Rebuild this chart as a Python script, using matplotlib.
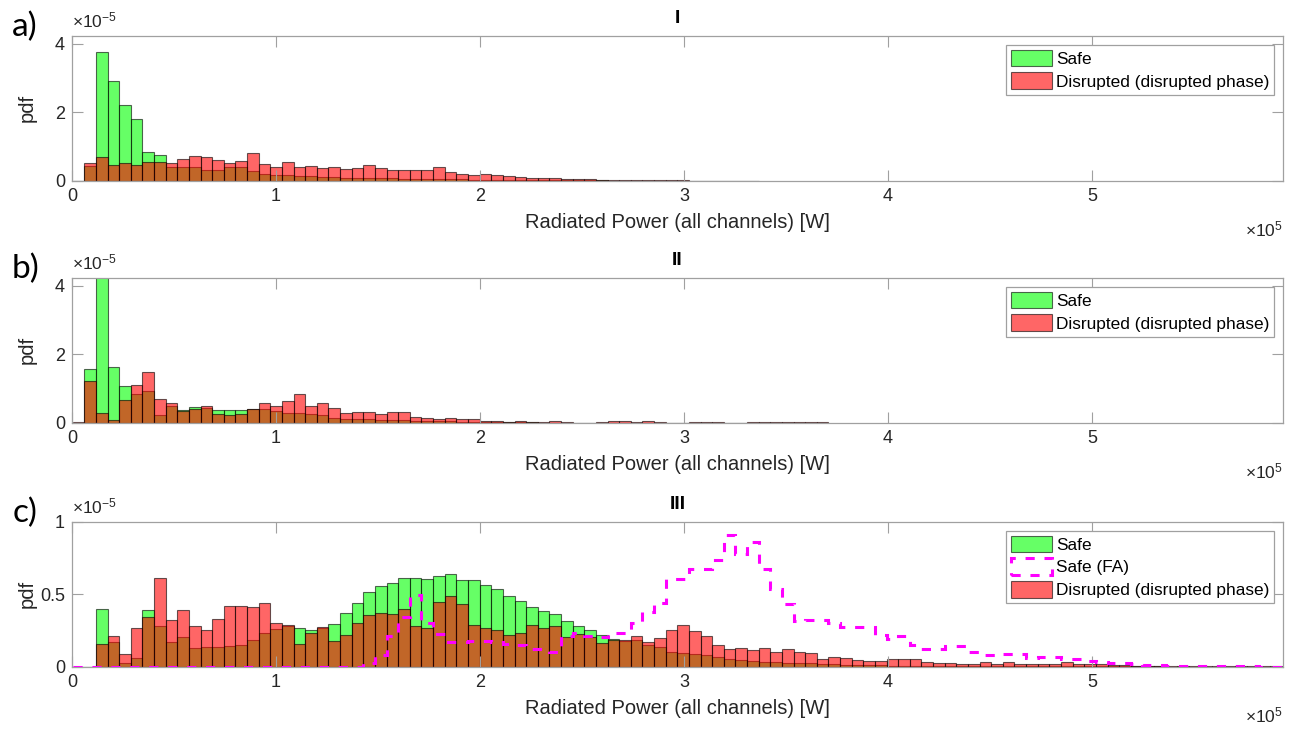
import numpy as np
import matplotlib
matplotlib.use('Agg')
import matplotlib.pyplot as plt
from matplotlib.patches import Patch
from matplotlib.ticker import FuncFormatter

plt.rcParams['font.family'] = ['Liberation Sans', 'DejaVu Sans']
plt.rcParams['mathtext.default'] = 'regular'

# histogram bins (W), same for every series
bin_start = 300.0
bin_width = 5700.0
n_bins = 104

# pdf values in units of 1e-5 per bin
safe_I = [0, 0.43, 3.75, 2.92, 2.20, 1.80, 0.85, 0.74, 0.39, 0.39,
          0.41, 0.31, 0.31, 0.40, 0.40, 0.28, 0.20, 0.18, 0.16, 0.13,
          0.13, 0.11, 0.11, 0.09, 0.08, 0.08, 0.07, 0.07, 0.06, 0.06,
          0.05, 0.05, 0.04, 0.04, 0.035, 0.03, 0.03, 0.025, 0.02, 0.02,
          0.015, 0.015, 0.012, 0.01, 0.01, 0.008, 0.006, 0.005, 0.004, 0.003,
          0.003, 0.003, 0.002, 0.002, 0.002, 0.002, 0.002, 0.002, 0.002]
disr_I = [0, 0.52, 0.68, 0.46, 0.52, 0.46, 0.54, 0.54, 0.51, 0.64,
          0.73, 0.69, 0.60, 0.51, 0.59, 0.80, 0.50, 0.41, 0.55, 0.39,
          0.43, 0.36, 0.39, 0.33, 0.37, 0.46, 0.37, 0.31, 0.31, 0.31,
          0.31, 0.39, 0.25, 0.20, 0.18, 0.20, 0.17, 0.14, 0.12, 0.09,
          0.09, 0.07, 0.06, 0.055, 0.045, 0.035, 0.03, 0.025, 0.02, 0.015,
          0.012, 0.01, 0.008, 0.005, 0.004, 0.003, 0.003, 0.002, 0.002]

safe_II = [0, 1.58, 4.6, 1.62, 1.07, 0.83, 0.94, 0.23, 0.49, 0.38,
           0.46, 0.43, 0.38, 0.38, 0.38, 0.40, 0.41, 0.33, 0.29, 0.29,
           0.26, 0.21, 0.15, 0.12, 0.12, 0.10, 0.09, 0.08, 0.07, 0.06,
           0.05, 0.04, 0.04, 0.03, 0.03, 0.02, 0.015, 0.01, 0.01, 0.008,
           0.005, 0.004, 0.003, 0, 0, 0.003, 0.003, 0.003, 0.003, 0.003,
           0.002, 0.002, 0.002, 0.002, 0.002, 0.002, 0.002, 0.002, 0.002, 0.002,
           0.002, 0.002, 0.002, 0.002, 0.002]
disr_II = [0.03, 1.22, 0.29, 0.09, 0.67, 1.11, 1.48, 0.70, 0.58, 0.34,
           0.41, 0.49, 0.25, 0.23, 0.26, 0.41, 0.58, 0.49, 0.62, 0.84,
           0.48, 0.57, 0.43, 0.27, 0.31, 0.30, 0.25, 0.30, 0.30, 0.18,
           0.13, 0.10, 0.15, 0.10, 0.10, 0.05, 0.04, 0.02, 0.05, 0.02,
           0.01, 0.05, 0.02, 0, 0, 0.01, 0.05, 0.06, 0.02, 0.06,
           0.01, 0.005, 0.005, 0.02, 0.03, 0.02, 0.005, 0.003, 0.01, 0.02,
           0.02, 0.02, 0.03, 0.02, 0.01]

safe_III = [0, 0, 0.40, 0.17, 0.028, 0.06, 0.39, 0.28, 0.168, 0.202,
            0.126, 0.138, 0.133, 0.14, 0.15, 0.184, 0.234, 0.26, 0.28, 0.27,
            0.25, 0.27, 0.294, 0.372, 0.437, 0.515, 0.556, 0.579, 0.616, 0.616,
            0.605, 0.628, 0.64, 0.598, 0.598, 0.563, 0.54, 0.487, 0.455, 0.409,
            0.386, 0.363, 0.317, 0.28, 0.253, 0.218, 0.19, 0.18, 0.184, 0.15,
            0.138, 0.103, 0.097, 0.087, 0.08, 0.07, 0.05, 0.046, 0.04, 0.035,
            0.03, 0.028, 0.023, 0.023, 0.018, 0.015, 0.013, 0.012, 0.01, 0.01,
            0.008, 0.007, 0.006, 0.006, 0.005, 0.005, 0.004, 0.004, 0.003, 0.003,
            0.003, 0.002, 0.002, 0.002, 0.002, 0.002, 0.002, 0.002, 0.002, 0.002,
            0.002, 0.002, 0.002, 0.002, 0.001, 0.001, 0.001, 0.001, 0.001, 0.001,
            0.001, 0.001, 0.001, 0.001]
disr_III = [0, 0, 0.155, 0.21, 0.087, 0.264, 0.345, 0.61, 0.322, 0.395,
            0.28, 0.253, 0.326, 0.42, 0.42, 0.41, 0.44, 0.30, 0.285, 0.156,
            0.23, 0.276, 0.177, 0.216, 0.30, 0.354, 0.368, 0.361, 0.40, 0.283,
            0.264, 0.448, 0.487, 0.432, 0.287, 0.27, 0.253, 0.218, 0.234, 0.287,
            0.264, 0.28, 0.207, 0.225, 0.207, 0.166, 0.185, 0.185, 0.21, 0.172,
            0.195, 0.253, 0.287, 0.246, 0.21, 0.15, 0.12, 0.126, 0.115, 0.13,
            0.103, 0.12, 0.103, 0.097, 0.05, 0.069, 0.057, 0.045, 0.04, 0.04,
            0.055, 0.05, 0.05, 0.03, 0.025, 0.025, 0.02, 0.02, 0.035, 0.02,
            0.035, 0.015, 0.02, 0.015, 0.02, 0.035, 0.02, 0.02, 0.02, 0.012,
            0.01, 0.005, 0.005, 0.005, 0.004, 0.004, 0.003, 0.003, 0.003, 0.002,
            0.002, 0.002, 0.002, 0.002]
safe_fa_III = [0, 0, 0, 0, 0, 0, 0, 0, 0, 0,
               0, 0, 0, 0, 0, 0, 0, 0, 0, 0,
               0, 0, 0, 0, 0, 0.028, 0.08, 0.21, 0.345, 0.494,
               0.30, 0.223, 0.172, 0.17, 0.18, 0.18, 0.17, 0.16, 0.15, 0.122,
               0.12, 0.10, 0.21, 0.234, 0.21, 0.207, 0.23, 0.23, 0.30, 0.38,
               0.437, 0.605, 0.605, 0.678, 0.678, 0.736, 0.908, 0.78, 0.862, 0.678,
               0.54, 0.43, 0.317, 0.32, 0.32, 0.30, 0.276, 0.276, 0.276, 0.22,
               0.19, 0.214, 0.15, 0.12, 0.12, 0.145, 0.145, 0.10, 0.08, 0.08,
               0.085, 0.085, 0.06, 0.07, 0.07, 0.05, 0.05, 0.04, 0.03, 0.028,
               0.023, 0.015, 0.012, 0.01, 0.008, 0.006, 0.005, 0.004, 0.003, 0.003,
               0.002, 0.002, 0.001, 0.001]

panels = [
    ('a)', 'I', safe_I, disr_I, None, 4.23, [0, 2, 4]),
    ('b)', 'II', safe_II, disr_II, None, 4.23, [0, 2, 4]),
    ('c)', 'III', safe_III, disr_III, safe_fa_III, 1.0, [0, 0.5, 1]),
]

edges = bin_start + bin_width * np.arange(n_bins + 1)
scale = 1e-5
grey = '#a0a0a0'
dash = (0, (3.0, 3.2))

fig = plt.figure(figsize=(12.98, 7.29), dpi=100)
bottoms = [0.7521, 0.4202, 0.0855]

for (tag, title, safe, disr, safe_fa, ytop, yt), b in zip(panels, bottoms):
    ax = fig.add_axes([0.0555, b, 0.9329, 0.1985])
    s = np.array(safe) * scale
    d = np.array(disr) * scale
    ax.bar(edges[:len(s)], s, width=bin_width, align='edge', color='#00ff00',
           alpha=0.6, edgecolor='black', linewidth=0.8)
    ax.bar(edges[:len(d)], d, width=bin_width, align='edge', color='#ff0000',
           alpha=0.6, edgecolor='black', linewidth=0.8)

    handles = [Patch(facecolor='#00ff00', alpha=0.6, edgecolor='black', linewidth=0.8, label='Safe')]
    if safe_fa is not None:
        f = np.array(safe_fa) * scale
        ax.stairs(f, edges[:len(f) + 1], color='#ff00ff', linewidth=2.2,
                  linestyle=dash, zorder=5)
        handles.append(Patch(facecolor='none', edgecolor='#ff00ff', linewidth=2.2,
                             linestyle=dash, label='Safe (FA)'))
    handles.append(Patch(facecolor='#ff0000', alpha=0.6, edgecolor='black', linewidth=0.8,
                         label='Disrupted (disrupted phase)'))

    ax.set_xlim(0, 5.936e5)
    ax.set_ylim(0, ytop * scale)
    ax.set_xticks(np.arange(0, 6) * 1e5)
    ax.set_yticks(np.array(yt) * scale)
    ax.xaxis.set_major_formatter(FuncFormatter(lambda v, p: f'{v / 1e5:g}'))
    ax.yaxis.set_major_formatter(FuncFormatter(lambda v, p: f'{v / 1e-5:g}'))
    ax.tick_params(direction='in', top=True, right=True, length=8, width=0.8,
                   color=grey, labelsize=13, labelcolor='#262626')
    ax.tick_params(axis='x', pad=5)
    ax.tick_params(axis='y', pad=5)
    for sp in ax.spines.values():
        sp.set_color(grey)
        sp.set_linewidth(0.9)

    ax.set_xlabel('Radiated Power (all channels) [W]', fontsize=14.5, color='#262626')
    ax.xaxis.set_label_coords(0.5, -0.22)
    ax.set_ylabel('pdf', fontsize=14.5, color='#262626')
    ax.yaxis.set_label_coords(-0.029, 0.5)

    ax.text(0.5, 1.12, title, transform=ax.transAxes, ha='center', va='center',
            fontsize=14, fontweight='bold')
    ax.text(0.0, 1.11, r'$\times$10$^{-5}$', transform=ax.transAxes, ha='left',
            va='center', fontsize=12.5, color='#262626')
    ax.text(1.0, -0.34, r'$\times$10$^{5}$', transform=ax.transAxes, ha='right',
            va='center', fontsize=12.5, color='#262626')

    leg = ax.legend(handles=handles, loc='upper right', fontsize=12.4,
                    handlelength=2.4, handleheight=1.1, handletextpad=0.2,
                    borderpad=0.3, labelspacing=0.32, borderaxespad=0.5,
                    fancybox=False, framealpha=1)
    leg.get_frame().set_edgecolor(grey)
    leg.get_frame().set_linewidth(0.9)

    fig.text(25 / 1298, b + 0.1985 + 0.012, tag, fontsize=24, family='Lato',
             ha='center', va='center')

fig.savefig('out.png', dpi=100)
